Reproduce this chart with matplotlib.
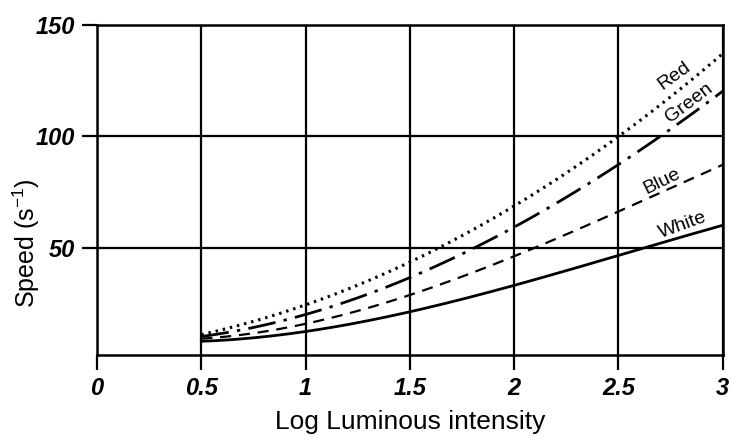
import numpy as np
import matplotlib
matplotlib.use("Agg")
import matplotlib.pyplot as plt

# values at x = 0.5, 1, 1.5, 2, 2.5, 3
log_lum = [0.5, 1.0, 1.5, 2.0, 2.5, 3.0]
red = [11, 25, 43, 69, 100, 137]
green = [10, 21, 36, 59, 88, 120]
blue = [9, 17, 28, 46, 67, 87]
white = [8, 13, 21, 33, 47, 60]

x_ticks = [0, 0.5, 1, 1.5, 2, 2.5, 3]
x_tick_labels = ["0", "0.5", "1", "1.5", "2", "2.5", "3"]
y_ticks = [50, 100, 150]

plt.rcParams['font.family'] = ['Liberation Sans', 'DejaVu Sans']

fig = plt.figure(figsize=(7.31, 4.38), dpi=100)
ax = fig.add_axes([0.1327, 0.1895, 0.856, 0.754])

# smooth curves through the read points
xs = np.linspace(0.5, 3.0, 200)
def smooth(vals):
    c = np.polyfit(log_lum, vals, 3)
    return np.polyval(c, xs)

ax.plot(xs, smooth(red), color='black', lw=2.2, linestyle=(0, (0.8, 1.6)))
ax.plot(xs, smooth(green), color='black', lw=2.0, linestyle=(0, (10, 3, 1.2, 3)))
ax.plot(xs, smooth(blue), color='black', lw=1.6, linestyle=(0, (5, 3.5)))
ax.plot(xs, smooth(white), color='black', lw=2.0, linestyle='-')

# curve labels
ax.text(2.77, 127, "Red", rotation=36, ha='center', va='center', fontsize=14)
ax.text(2.84, 115, "Green", rotation=37, ha='center', va='center', fontsize=14)
ax.text(2.71, 80, "Blue", rotation=26, ha='center', va='center', fontsize=14)
ax.text(2.81, 60, "White", rotation=20, ha='center', va='center', fontsize=14)

ax.set_xlim(0, 3)
ax.set_ylim(2, 150)
ax.set_xticks(x_ticks)
ax.set_xticklabels(x_tick_labels)
ax.set_yticks(y_ticks)
for lab in ax.get_xticklabels() + ax.get_yticklabels():
    lab.set_fontweight('bold')
    lab.set_fontstyle('italic')
    lab.set_fontsize(17)

ax.grid(True, color='black', linewidth=1.6)
for s in ax.spines.values():
    s.set_linewidth(1.8)
ax.tick_params(direction='out', length=11, width=1.6, pad=5)

ax.set_xlabel("Log Luminous intensity", fontsize=19, labelpad=7)
ax.set_ylabel("Speed (s$^{\\mathregular{-1}}$)", fontsize=18)
ax.yaxis.set_label_coords(-0.088, 0.34)

fig.savefig("out.png", dpi=100)
